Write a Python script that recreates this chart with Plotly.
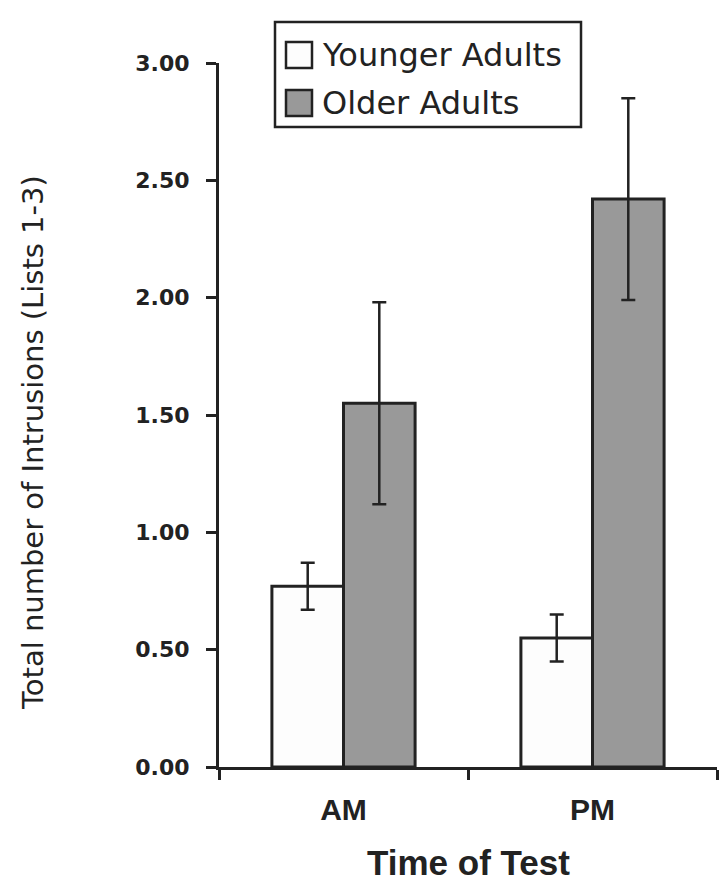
import plotly.graph_objects as go

categories = ["AM", "PM"]
series_names = ["Younger Adults", "Older Adults"]
younger = [0.77, 0.55]
younger_err = [0.10, 0.10]
older = [1.55, 2.42]
older_err = [0.43, 0.43]
y_ticks = [0, 0.5, 1.0, 1.5, 2.0, 2.5, 3.0]
y_ticklabels = ["0.00", "0.50", "1.00", "1.50", "2.00", "2.50", "3.00"]

DARK = "#222222"
fills = ["#fdfdfd", "#999999"]

OFF = 8  # page body margin
W, H = 728 - OFF, 890 - OFF
L, R, T, B = 219 - OFF, 11, 63 - OFF, 123
pw, ph = W - L - R, H - T - B

def px(x):
    return (x - OFF - L) / pw

def py(y):
    return (H - B - (y - OFF)) / ph

fig = go.Figure()
for name, vals, errs, col in [(series_names[0], younger, younger_err, fills[0]),
                              (series_names[1], older, older_err, fills[1])]:
    fig.add_trace(go.Bar(
        x=categories, y=vals, name=name,
        marker=dict(color=col, line=dict(color=DARK, width=3)),
        error_y=dict(type="data", array=errs, visible=True, color=DARK,
                     thickness=2.5, width=7),
        showlegend=False,
    ))

fig.update_layout(
    width=W, height=H,
    margin=dict(l=L, r=R, t=T, b=B),
    paper_bgcolor="white", plot_bgcolor="white",
    barmode="group", bargap=0.425, bargroupgap=0,
    font=dict(family="Liberation Sans, Arial, sans-serif", color=DARK),
)
fig.update_yaxes(
    range=[0, 3], tickvals=y_ticks, ticktext=y_ticklabels,
    showgrid=False, zeroline=False,
    showline=True, linecolor=DARK, linewidth=3,
    ticks="outside", ticklen=10, tickwidth=3, tickcolor=DARK,
    tickfont=dict(family="DejaVu Sans", size=22, color=DARK, weight="bold"),
    ticklabelstandoff=12,
)
fig.update_xaxes(
    showgrid=False, zeroline=False,
    showline=True, linecolor=DARK, linewidth=3,
    ticks="outside", ticklen=10, tickwidth=3, tickcolor=DARK,
    tickson="boundaries",
    tickfont=dict(family="Liberation Sans", size=30, color=DARK, weight="bold"),
    ticklabelstandoff=14,
)

# axis titles
fig.add_annotation(text="Time of Test", xref="paper", yref="paper",
                   x=px(468), y=py(863), xanchor="center", yanchor="middle",
                   showarrow=False,
                   font=dict(family="Liberation Sans", size=35, color=DARK, weight="bold"))
fig.add_annotation(text="Total number of Intrusions (Lists 1-3)", xref="paper", yref="paper",
                   x=px(33), y=py(443), xanchor="center", yanchor="middle",
                   textangle=-90, showarrow=False,
                   font=dict(family="DejaVu Sans", size=29, color=DARK))

# legend box
fig.add_shape(type="rect", xref="paper", yref="paper",
              x0=px(275), x1=px(581), y0=py(127), y1=py(22),
              line=dict(color=DARK, width=2.5), fillcolor="white", layer="above")
for i, (name, col) in enumerate(zip(series_names, fills)):
    cy = 55 + i * 48
    fig.add_shape(type="rect", xref="paper", yref="paper",
                  x0=px(286), x1=px(312), y0=py(cy + 13), y1=py(cy - 13),
                  line=dict(color=DARK, width=2.5), fillcolor=col, layer="above")
    fig.add_annotation(text=name, xref="paper", yref="paper",
                       x=px(320), y=py(cy), xanchor="left", yanchor="middle",
                       showarrow=False,
                       font=dict(family="DejaVu Sans", size=32, color=DARK))

fig.write_html("out.html")
